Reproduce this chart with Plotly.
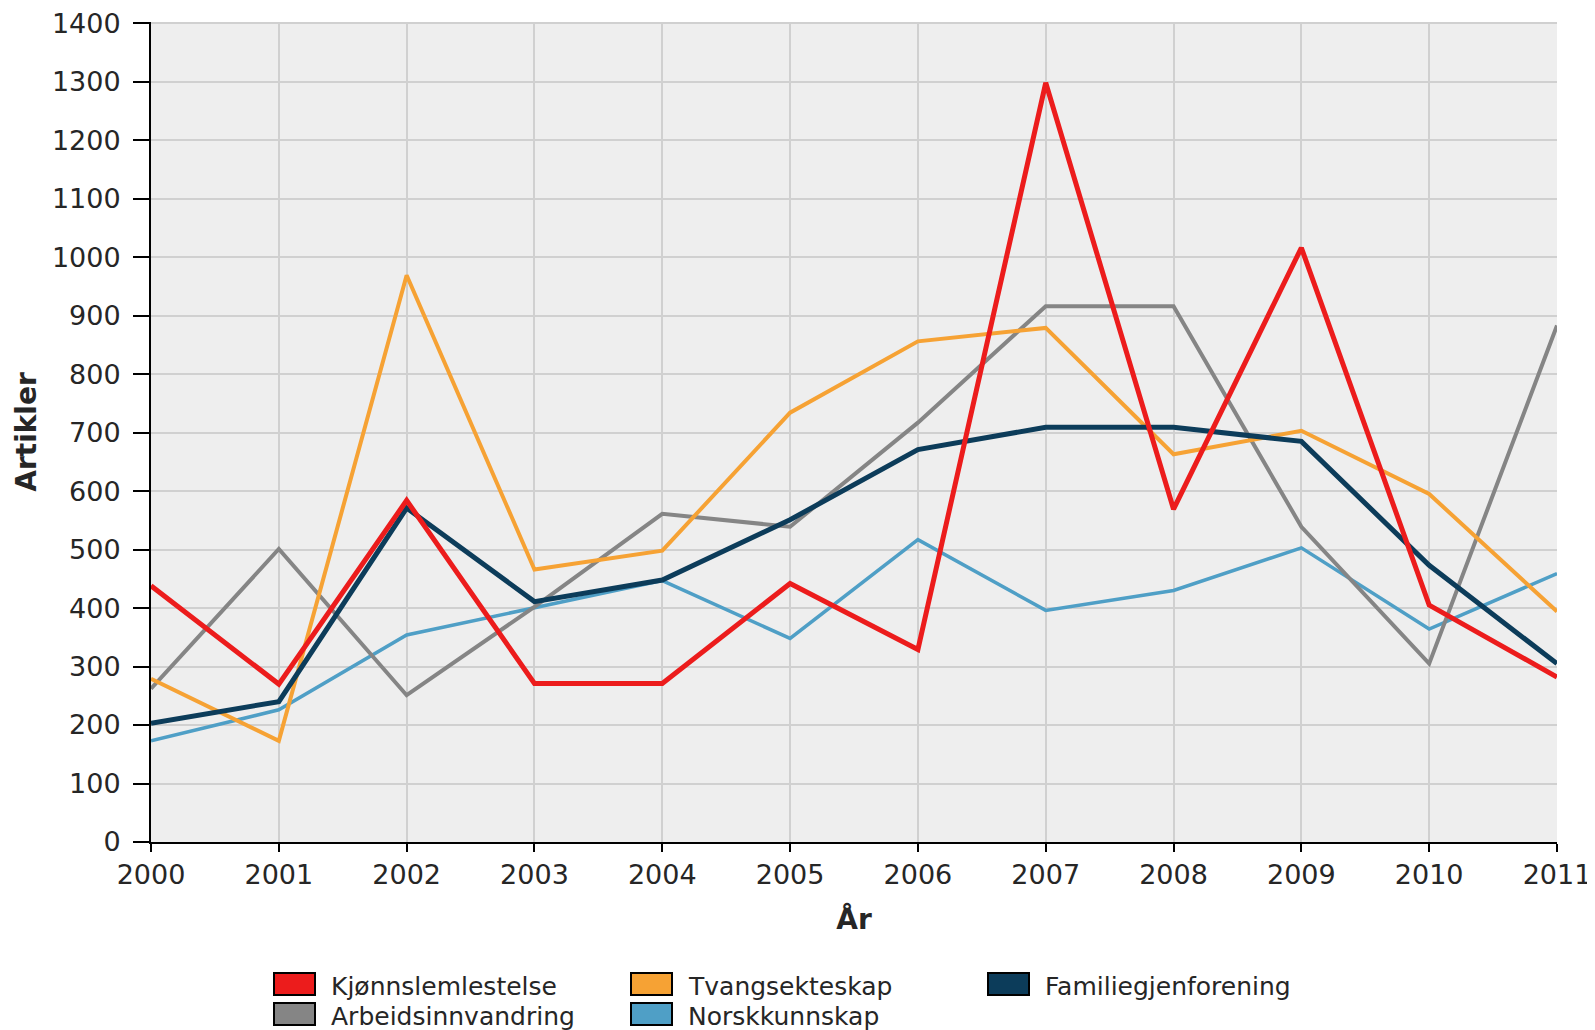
import plotly.graph_objects as go

years = list(range(2000, 2012))

kjonnslemlestelse = [438, 270, 584, 271, 271, 442, 329, 1298, 569, 1016, 405, 282]
arbeidsinnvandring = [262, 501, 251, 402, 561, 539, 717, 916, 916, 539, 305, 883]
tvangsekteskap = [279, 173, 969, 466, 498, 734, 856, 879, 663, 703, 595, 394]
norskkunnskap = [173, 226, 354, 400, 447, 348, 517, 396, 430, 503, 364, 459]
familiegjenforening = [203, 240, 571, 411, 448, 551, 671, 709, 709, 685, 473, 305]

# legend order (row-wise, 3 columns)
series = [
    ("Kjønnslemlestelse", kjonnslemlestelse, "#ec1c1c", 5),
    ("Tvangsekteskap", tvangsekteskap, "#f6a234", 4),
    ("Familiegjenforening", familiegjenforening, "#0c3c5a", 5),
    ("Arbeidsinnvandring", arbeidsinnvandring, "#858585", 4),
    ("Norskkunnskap", norskkunnskap, "#4f9fc6", 3.5),
]
# draw order: blue/gray under, red on top
draw_order = ["Norskkunnskap", "Arbeidsinnvandring", "Tvangsekteskap", "Familiegjenforening", "Kjønnslemlestelse"]

# page body adds an 8px margin, so the figure is sized/placed 8px in
OFF = 8
W, H = 1595 - OFF, 1030 - OFF
L, T = 151 - OFF, 22 - OFF
R, B = 1595 - 1557, 1030 - 842
pw, ph = W - L - R, H - T - B

fig = go.Figure()
lookup = {s[0]: s for s in series}
for name in draw_order:
    _, vals, col, w = lookup[name]
    fig.add_trace(go.Scatter(x=years, y=vals, mode="lines", name=name,
                             line=dict(color=col, width=w), showlegend=False))

font = "DejaVu Sans, Verdana, sans-serif"
txt = "#262626"

# hand-made legend: 41x22 boxes with black border, 3 columns
def px_x(p):
    return (p - OFF - L) / pw

def px_y(p):
    return (H - B - (p - OFF)) / ph

for i, (name, vals, col, w) in enumerate(series):
    c, r = i % 3, i // 3
    x0 = 274 + c * 357
    yc = 984 + r * 30
    fig.add_shape(type="rect", xref="paper", yref="paper",
                  x0=px_x(x0), x1=px_x(x0 + 41), y0=px_y(yc - 11), y1=px_y(yc + 11),
                  fillcolor=col, line=dict(color="black", width=2))
    fig.add_annotation(xref="paper", yref="paper", x=px_x(x0 + 55), y=px_y(yc + 2),
                       text=name, showarrow=False, xanchor="left", yanchor="middle",
                       font=dict(size=25, family=font, color=txt))

fig.update_layout(
    width=W, height=H,
    margin=dict(l=L, r=R, t=T, b=B, autoexpand=False),
    paper_bgcolor="white",
    plot_bgcolor="#eeeeee",
    font=dict(family=font, size=24, color=txt),
    showlegend=False,
)
fig.update_xaxes(
    range=[2000, 2011], dtick=1, tick0=2000,
    showgrid=True, gridcolor="#d0d0d0", gridwidth=1.5,
    showline=True, linecolor="black", linewidth=2,
    ticks="outside", ticklen=8, tickwidth=2, tickcolor="black",
    tickfont=dict(size=27, family=font, color=txt), ticklabeloverflow="allow",
    title=dict(text="<b>År</b>", font=dict(size=28, family=font, color=txt), standoff=20),
    zeroline=False, automargin=False,
)
fig.update_yaxes(
    range=[0, 1402], dtick=100, tick0=0,
    showgrid=True, gridcolor="#d0d0d0", gridwidth=1.5,
    showline=True, linecolor="black", linewidth=2,
    ticks="outside", ticklen=16, tickwidth=2, tickcolor="black",
    tickfont=dict(size=27, family=font, color=txt), ticklabeloverflow="allow",
    ticklabelstandoff=7,
    title=dict(text="<b>Artikler</b>", font=dict(size=28, family=font, color=txt), standoff=7),
    zeroline=False, automargin=False,
)

fig.write_html("out.html")
